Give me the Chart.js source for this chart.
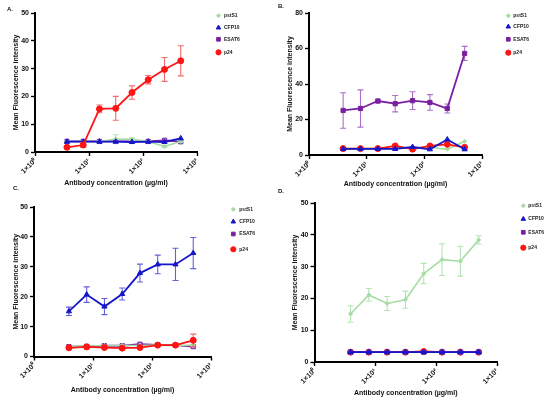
<!DOCTYPE html>
<html>
<head>
<meta charset="utf-8">
<script src="https://cdn.jsdelivr.net/npm/chart.js@4.4.0/dist/chart.umd.min.js"></script>
<style>
html,body{margin:0;padding:0;background:#fff;width:550px;height:405px;overflow:hidden}
.box{position:absolute}
</style>
</head>
<body>
<div class="box" style="left:0;top:0"><canvas id="cA" width="275" height="200"></canvas></div>
<div class="box" style="left:275px;top:0"><canvas id="cB" width="275" height="200"></canvas></div>
<div class="box" style="left:0;top:185px"><canvas id="cC" width="275" height="220"></canvas></div>
<div class="box" style="left:275px;top:185px"><canvas id="cD" width="275" height="220"></canvas></div>
<script>
// antibody dilution series (µg/ml)
const conc = [3.90625, 7.8125, 15.625, 31.25, 62.5, 125, 250, 500];
const xTicks = [1, 10, 100, 1000];
const xTickLabels = ['1×10⁰', '1×10¹', '1×10²', '1×10³'];
const seriesNames = ['pstS1', 'CFP10', 'ESAT6', 'p24'];

// A.
const aPstS1 = [3.7, 3.8, 3.8, 4.7, 4.6, 3.8, 2.0, 3.8];
const aPstS1Sd = [0.3, 0.3, 0.3, 1.5, 0.5, 0.3, 0.4, 0.3];
const aCfp10 = [3.7, 3.7, 3.7, 3.7, 3.6, 3.7, 3.6, 4.9];
const aEsat6 = [3.8, 3.8, 3.8, 3.8, 3.8, 3.8, 4.2, 3.7];
const aP24 = [1.7, 2.5, 15.5, 15.7, 21.4, 26.0, 29.7, 32.8];
const aP24Sd = [0.3, 0.9, 1.4, 4.3, 2.4, 1.5, 4.3, 5.4];

// B.
const bPstS1 = [3.6, 3.6, 3.6, 3.8, 4.0, 4.4, 3.2, 7.7];
const bCfp10 = [3.4, 3.4, 3.4, 3.4, 4.5, 3.2, 8.7, 3.2];
const bEsat6 = [25.1, 26.2, 30.4, 28.9, 30.6, 29.6, 26.2, 57.2];
const bEsat6Sd = [10.0, 10.5, 1.0, 4.6, 5.0, 4.4, 2.5, 4.0];
const bP24 = [3.6, 3.6, 3.6, 5.1, 3.3, 5.1, 6.0, 4.3];

// C.
const cPstS1 = [3.3, 3.5, 3.7, 3.7, 3.7, 3.8, 3.7, 3.8];
const cCfp10 = [15.1, 20.7, 16.7, 20.9, 27.9, 30.8, 30.8, 34.6];
const cCfp10Sd = [1.4, 2.6, 2.7, 2.0, 3.0, 3.1, 5.4, 5.2];
const cEsat6 = [3.3, 3.4, 3.6, 3.6, 4.1, 3.9, 3.8, 3.3];
const cP24 = [2.9, 3.2, 3.0, 2.8, 3.0, 3.8, 3.8, 5.4];
const cP24Sd = [0.3, 0.3, 0.3, 0.3, 0.3, 0.3, 0.3, 2.1];

// D.
const dPstS1 = [15.1, 21.1, 18.4, 19.6, 27.8, 32.2, 31.7, 38.4];
const dPstS1Sd = [2.6, 2.0, 2.2, 2.7, 3.2, 5.0, 4.7, 1.3];
const dCfp10 = [3.1, 3.1, 3.1, 3.1, 3.1, 3.1, 3.1, 3.1];
const dEsat6 = [3.1, 3.1, 3.1, 3.1, 3.1, 3.1, 3.1, 3.1];
const dP24 = [3.1, 3.1, 3.1, 3.1, 3.3, 3.1, 3.1, 3.1];

const FONT = '"Liberation Sans", Arial, sans-serif';

const styles = {
  pstS1: {color: '#a6dca3', err: '#b5e2b2', fill: '#a6dca3', shape: 'rectRot', r: 2, w: 1.6},
  CFP10: {color: '#1616c8', err: '#6262dc', fill: '#1616c8', shape: 'triangle', r: 3, w: 1.8},
  ESAT6: {color: '#7b1fa2', err: '#a870c8', fill: '#7b1fa2', shape: 'rect', r: 3, w: 1.8},
  p24:   {color: '#ff1414', err: '#f26a6a', fill: '#ff1414', shape: 'circle', r: 3, w: 1.8}
};

function pts(vals) {
  return conc.map((x, i) => ({x: x, y: vals[i]}));
}

function ds(name, vals, sd, order, fill) {
  const s = styles[name];
  return {
    label: name,
    data: pts(vals),
    errorBars: sd || null,
    errorColor: s.err,
    borderColor: s.color,
    backgroundColor: fill || s.fill,
    pointBackgroundColor: fill || s.fill,
    pointBorderColor: s.color,
    pointStyle: s.shape,
    pointRadius: s.r,
    pointBorderWidth: 1,
    borderWidth: s.w,
    tension: 0,
    order: order,
    clip: false
  };
}

const errorBarPlugin = {
  id: 'errorBars',
  beforeDatasetDraw(chart, args) {
    const d = chart.data.datasets[args.index];
    if (!d.errorBars) return;
    const ctx = chart.ctx, x = chart.scales.x, y = chart.scales.y;
    ctx.save();
    ctx.strokeStyle = d.errorColor;
    ctx.lineWidth = 1.1;
    d.data.forEach((p, i) => {
      const e = d.errorBars[i];
      if (!e) return;
      const px = x.getPixelForValue(p.x);
      const t = y.getPixelForValue(p.y + e);
      const b = y.getPixelForValue(p.y - e);
      ctx.beginPath();
      ctx.moveTo(px, t); ctx.lineTo(px, b);
      ctx.moveTo(px - 3, t); ctx.lineTo(px + 3, t);
      ctx.moveTo(px - 3, b); ctx.lineTo(px + 3, b);
      ctx.stroke();
    });
    ctx.restore();
  }
};

// panel letter + legend drawn on the canvas
const decorPlugin = {
  id: 'decor',
  afterDraw(chart, args, o) {
    const ctx = chart.ctx;
    ctx.save();
    ctx.fillStyle = '#111';
    ctx.font = 'bold 6px ' + FONT;
    ctx.textBaseline = 'middle';
    ctx.textAlign = 'left';
    ctx.fillText(o.letter, o.letterX, o.letterY);
    ctx.font = 'bold 5px ' + FONT;
    seriesNames.forEach((n, i) => {
      const s = styles[n];
      const yy = o.legY[i];
      ctx.fillStyle = s.fill;
      ctx.strokeStyle = s.color;
      Chart.helpers.drawPoint(ctx, {pointStyle: s.shape, radius: n === 'pstS1' ? 2 : 2.6, rotation: 0, borderWidth: 1}, o.legX, yy);
      ctx.fillStyle = '#222';
      ctx.fillText(n, o.legTextX, yy);
    });
    ctx.restore();
  }
};

function makePanel(id, p) {
  const canvas = document.getElementById(id);
  const W = canvas.width, H = canvas.height;
  const tickFont = {family: FONT, size: 7, weight: 'bold'};
  const titleFont = {family: FONT, size: 7, weight: 'bold'};
  const zeroPad = s => { s.paddingLeft = 0; s.paddingRight = 0; s.paddingTop = 0; s.paddingBottom = 0; };
  new Chart(canvas, {
    type: 'line',
    data: {datasets: p.datasets},
    plugins: [errorBarPlugin, decorPlugin],
    options: {
      responsive: false,
      animation: false,
      events: [],
      layout: {autoPadding: false, padding: {left: 0, top: p.top, right: W - p.right, bottom: 0}},
      plugins: {
        legend: {display: false},
        tooltip: {enabled: false},
        decor: p.decor
      },
      scales: {
        x: {
          type: 'logarithmic',
          min: 1, max: 1000,
          afterBuildTicks: s => { s.ticks = xTicks.map(v => ({value: v})); },
          afterFit: s => { s.height = H - p.bottom; zeroPad(s); },
          ticks: {
            callback: (v, i) => xTickLabels[i],
            minRotation: 45, maxRotation: 45, autoSkip: false,
            font: tickFont, color: '#111', padding: 1
          },
          grid: {drawOnChartArea: false, color: '#000', tickLength: 4, tickWidth: 1.4},
          border: {color: '#000', width: 2},
          title: {display: true, text: 'Antibody concentration (µg/ml)', font: titleFont, color: '#111',
                  padding: {top: 0, bottom: p.xTitlePad}}
        },
        y: {
          min: 0, max: p.ymax,
          afterFit: s => { s.width = p.left; zeroPad(s); },
          ticks: {stepSize: p.ystep, font: tickFont, color: '#111', padding: 2},
          grid: {drawOnChartArea: false, color: '#000', tickLength: 4, tickWidth: 1.4},
          border: {color: '#000', width: 2},
          title: {display: true, text: 'Mean Fluorescence intensity', font: titleFont, color: '#111',
                  padding: {top: p.yTitlePad, bottom: 0}}
        }
      }
    }
  });
}

makePanel('cA', {
  left: 35, top: 13, right: 197, bottom: 152, ymax: 50, ystep: 10,
  xTitlePad: 13, yTitlePad: 11.8,
  decor: {letter: 'A.', letterX: 7, letterY: 9.5, legX: 218.5, legTextX: 224, legY: [15.7, 27.7, 39.3, 52.3]},
  datasets: [
    ds('pstS1', aPstS1, aPstS1Sd, 2),
    ds('CFP10', aCfp10, null, 1),
    ds('ESAT6', aEsat6, null, 3, '#b08ad4'),
    ds('p24', aP24, aP24Sd, 0)
  ]
});

makePanel('cB', {
  left: 34, top: 13, right: 207, bottom: 155, ymax: 80, ystep: 20,
  xTitlePad: 11.5, yTitlePad: 10.8,
  decor: {letter: 'B.', letterX: 3, letterY: 6, legX: 233.3, legTextX: 238.3, legY: [15.7, 26.7, 39.3, 52.7]},
  datasets: [
    ds('pstS1', bPstS1, null, 3),
    ds('CFP10', bCfp10, null, 1),
    ds('ESAT6', bEsat6, bEsat6Sd, 0),
    ds('p24', bP24, null, 2)
  ]
});

makePanel('cC', {
  left: 34, top: 22, right: 211, bottom: 171.5, ymax: 50, ystep: 10,
  xTitlePad: 10.8, yTitlePad: 11.8,
  decor: {letter: 'C.', letterX: 13, letterY: 3.5, legX: 233.3, legTextX: 239.3, legY: [24.3, 36.7, 49, 64.3]},
  datasets: [
    ds('pstS1', cPstS1, null, 2),
    ds('CFP10', cCfp10, cCfp10Sd, 0),
    ds('ESAT6', cEsat6, null, 3, '#b08ad4'),
    ds('p24', cP24, cP24Sd, 1)
  ]
});

makePanel('cD', {
  left: 39.5, top: 18, right: 222, bottom: 177, ymax: 50, ystep: 10,
  xTitlePad: 7.5, yTitlePad: 15.8,
  decor: {letter: 'D.', letterX: 3, letterY: 6.7, legX: 248.3, legTextX: 253.3, legY: [20.7, 34, 47.3, 62.7]},
  datasets: [
    ds('pstS1', dPstS1, dPstS1Sd, 0),
    ds('CFP10', dCfp10, null, 1),
    ds('ESAT6', dEsat6, null, 2, '#b08ad4'),
    ds('p24', dP24, null, 3)
  ]
});
</script>
</body>
</html>
